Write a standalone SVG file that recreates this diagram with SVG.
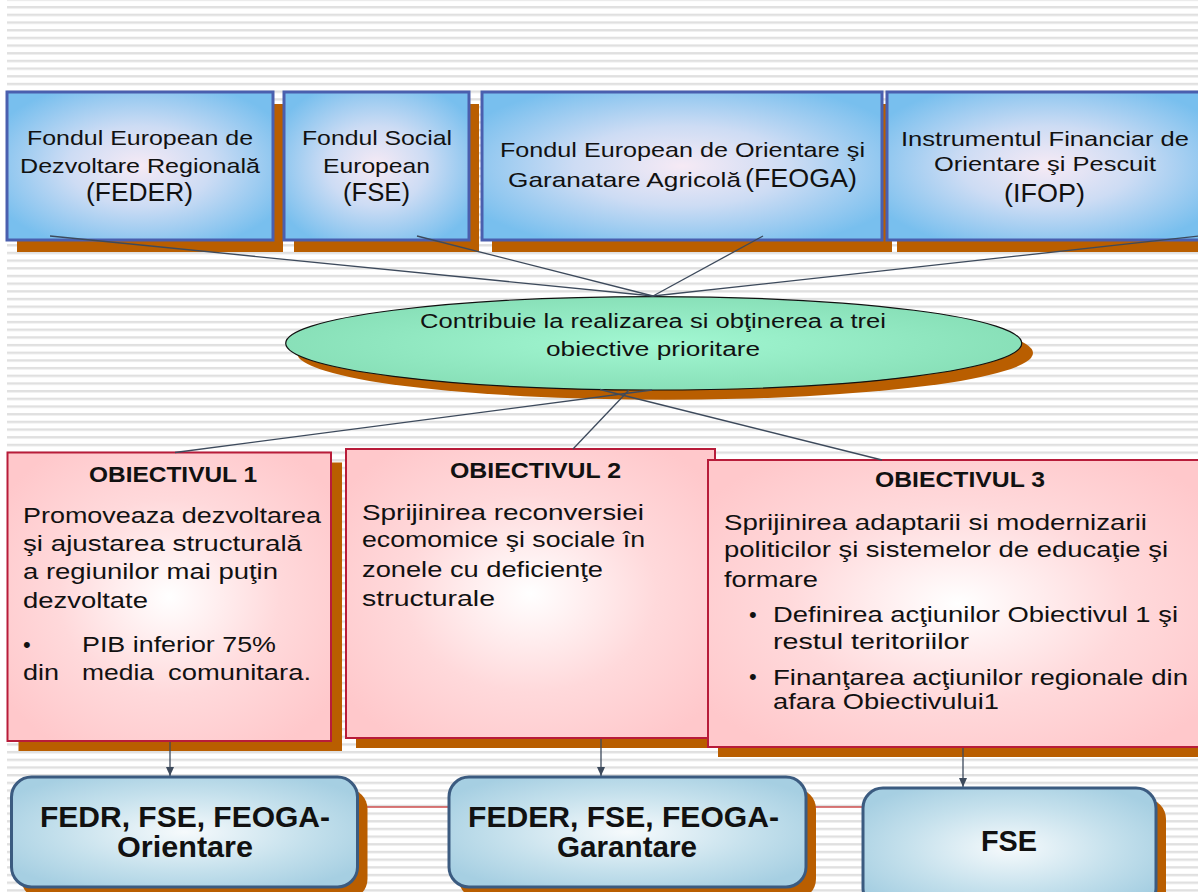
<svg xmlns="http://www.w3.org/2000/svg" width="1198" height="892" viewBox="0 0 1198 892">
<defs>
<pattern id="stripes" x="0" y="6" width="20" height="7.68" patternUnits="userSpaceOnUse"><rect width="20" height="2.4" fill="#e0e0e0"/></pattern>
<radialGradient id="gTop" cx="0.5" cy="0.5" r="0.6"><stop offset="0" stop-color="#f6eaf5"/><stop offset="0.45" stop-color="#cddcf4"/><stop offset="1" stop-color="#78bfee"/></radialGradient>
<radialGradient id="gObj" cx="0.5" cy="0.5" r="0.62"><stop offset="0" stop-color="#ffffff"/><stop offset="0.55" stop-color="#ffd9db"/><stop offset="1" stop-color="#ffc8cb"/></radialGradient>
<radialGradient id="gBot" cx="0.5" cy="0.5" r="0.6"><stop offset="0" stop-color="#f6fafc"/><stop offset="0.6" stop-color="#c4e0ec"/><stop offset="1" stop-color="#a6cfe2"/></radialGradient>
<radialGradient id="gEll" cx="0.5" cy="0.5" r="0.55"><stop offset="0" stop-color="#a2f7d2"/><stop offset="1" stop-color="#86deb6"/></radialGradient>
<marker id="arr" markerUnits="userSpaceOnUse" markerWidth="10" markerHeight="10" refX="9" refY="4" orient="auto"><path d="M0,0 L9,4 L0,8 z" fill="#3d4a5c"/></marker>
</defs>
<style>
.sh{fill:#b95e00}
.top{fill:url(#gTop);stroke:#4a5fae;stroke-width:3}
.obj{fill:url(#gObj);stroke:#b81c3a;stroke-width:2}
.bot{fill:url(#gBot);stroke:#3b5b80;stroke-width:3}
.ell{fill:url(#gEll);stroke:#111;stroke-width:1.2}
.c{stroke:#3d4a5c;stroke-width:1.3;fill:none}
.r{stroke:#c00000;stroke-width:1.2;fill:none}
text{font-family:"Liberation Sans",Arial,sans-serif;fill:#111}
.t21{font-size:21px}
.t26{font-size:26px}
.t20{font-size:20px}
.t22{font-size:22px}
.h{font-size:22px;font-weight:bold}
.b30{font-size:30px;font-weight:bold}
</style>
<rect width="1198" height="892" fill="#ffffff"/>
<rect x="7" y="0" width="1191" height="892" fill="url(#stripes)"/>

<g id="node-feder">
<rect class="sh" x="17" y="104" width="266" height="148"/>
<rect class="top" x="7" y="92" width="266" height="148"/>
<text class="t21" x="27" y="145" textLength="226" lengthAdjust="spacingAndGlyphs">Fondul European de</text>
<text class="t21" x="20" y="173" textLength="240" lengthAdjust="spacingAndGlyphs">Dezvoltare Regională</text>
<text class="t26" x="86" y="201" textLength="107" lengthAdjust="spacingAndGlyphs">(FEDER)</text>
</g>
<g id="node-fse-top">
<rect class="sh" x="294" y="104" width="185" height="148"/>
<rect class="top" x="284" y="92" width="185" height="148"/>
<text class="t21" x="302" y="145" textLength="150" lengthAdjust="spacingAndGlyphs">Fondul Social</text>
<text class="t21" x="323" y="173" textLength="107" lengthAdjust="spacingAndGlyphs">European</text>
<text class="t26" x="343" y="201" textLength="67" lengthAdjust="spacingAndGlyphs">(FSE)</text>
</g>
<g id="node-feoga">
<rect class="sh" x="492" y="104" width="400" height="148"/>
<rect class="top" x="482" y="92" width="400" height="148"/>
<text class="t21" x="500" y="157" textLength="365" lengthAdjust="spacingAndGlyphs">Fondul European de Orientare şi</text>
<text class="t21" x="508" y="187" textLength="233" lengthAdjust="spacingAndGlyphs">Garanatare Agricolă</text>
<text class="t26" x="745" y="187" textLength="112" lengthAdjust="spacingAndGlyphs">(FEOGA)</text>
</g>
<g id="node-ifop">
<rect class="sh" x="897" y="104" width="320" height="148"/>
<rect class="top" x="887" y="92" width="320" height="148"/>
<text class="t21" x="901" y="146" textLength="288" lengthAdjust="spacingAndGlyphs">Instrumentul Financiar de</text>
<text class="t21" x="934" y="171" textLength="222" lengthAdjust="spacingAndGlyphs">Orientare şi Pescuit</text>
<text class="t26" x="1004" y="202" textLength="81" lengthAdjust="spacingAndGlyphs">(IFOP)</text>
</g>

<g id="node-contribuie">
<ellipse class="sh" cx="665" cy="353" rx="368" ry="46.7"/>
<ellipse class="ell" cx="653.7" cy="343.3" rx="368" ry="46.7"/>
<text class="t20" x="420" y="328" textLength="466" lengthAdjust="spacingAndGlyphs">Contribuie la realizarea si obţinerea a trei</text>
<text class="t20" x="546" y="356" textLength="214" lengthAdjust="spacingAndGlyphs">obiective prioritare</text>
</g>

<g id="node-obiectivul1">
<rect class="sh" x="18.5" y="462.5" width="323.5" height="288.5"/>
<rect class="obj" x="7.5" y="452.5" width="323.5" height="288.5"/>
<text class="h" x="89" y="482" textLength="168" lengthAdjust="spacingAndGlyphs">OBIECTIVUL 1</text>
<text class="t22" x="23" y="523" textLength="298" lengthAdjust="spacingAndGlyphs">Promoveaza dezvoltarea</text>
<text class="t22" x="23" y="551" textLength="279" lengthAdjust="spacingAndGlyphs">şi ajustarea structurală</text>
<text class="t22" x="23" y="579" textLength="255" lengthAdjust="spacingAndGlyphs">a regiunilor mai puţin</text>
<text class="t22" x="23" y="608" textLength="125" lengthAdjust="spacingAndGlyphs">dezvoltate</text>
<text class="t22" x="23" y="652">•</text>
<text class="t22" x="82" y="652" textLength="194" lengthAdjust="spacingAndGlyphs">PIB inferior 75%</text>
<text class="t22" x="23" y="680" textLength="36" lengthAdjust="spacingAndGlyphs">din</text>
<text class="t22" x="82" y="680" textLength="72" lengthAdjust="spacingAndGlyphs">media</text>
<text class="t22" x="168" y="680" textLength="143" lengthAdjust="spacingAndGlyphs">comunitara.</text>
</g>
<g id="node-obiectivul2">
<rect class="sh" x="356" y="459" width="369" height="289"/>
<rect class="obj" x="346" y="449" width="369" height="289"/>
<text class="h" x="450" y="478" textLength="171" lengthAdjust="spacingAndGlyphs">OBIECTIVUL 2</text>
<text class="t22" x="362" y="520" textLength="282" lengthAdjust="spacingAndGlyphs">Sprijinirea reconversiei</text>
<text class="t22" x="362" y="547" textLength="283" lengthAdjust="spacingAndGlyphs">ecomomice şi sociale în</text>
<text class="t22" x="362" y="577" textLength="241" lengthAdjust="spacingAndGlyphs">zonele cu deficienţe</text>
<text class="t22" x="362" y="606" textLength="133" lengthAdjust="spacingAndGlyphs">structurale</text>
</g>
<g id="node-obiectivul3">
<rect class="sh" x="718" y="470" width="500" height="287"/>
<rect class="obj" x="708" y="460" width="500" height="287"/>
<text class="h" x="875" y="487" textLength="170" lengthAdjust="spacingAndGlyphs">OBIECTIVUL 3</text>
<text class="t22" x="724" y="530" textLength="423" lengthAdjust="spacingAndGlyphs">Sprijinirea adaptarii si modernizarii</text>
<text class="t22" x="724" y="557" textLength="444" lengthAdjust="spacingAndGlyphs">politicilor şi sistemelor de educaţie şi</text>
<text class="t22" x="724" y="587" textLength="94" lengthAdjust="spacingAndGlyphs">formare</text>
<text class="t22" x="749" y="622">•</text>
<text class="t22" x="773" y="622" textLength="405" lengthAdjust="spacingAndGlyphs">Definirea acţiunilor Obiectivul 1 şi</text>
<text class="t22" x="773" y="649" textLength="196" lengthAdjust="spacingAndGlyphs">restul teritoriilor</text>
<text class="t22" x="749" y="684">•</text>
<text class="t22" x="773" y="685" textLength="415" lengthAdjust="spacingAndGlyphs">Finanţarea acţiunilor regionale din</text>
<text class="t22" x="773" y="709" textLength="226" lengthAdjust="spacingAndGlyphs">afara Obiectivului1</text>
</g>

<g id="connectors">
<line class="c" x1="50" y1="236" x2="653" y2="296"/>
<line class="c" x1="417" y1="236" x2="653" y2="296"/>
<line class="c" x1="763" y1="236" x2="653" y2="296"/>
<line class="c" x1="1200" y1="236" x2="653" y2="296"/>
<line class="c" x1="652" y1="390" x2="175" y2="452.5"/>
<line class="c" x1="629" y1="390" x2="573" y2="449"/>
<line class="c" x1="600" y1="389.5" x2="882" y2="460"/>
<line class="r" x1="358" y1="807" x2="863" y2="807"/>
<line class="c" x1="170" y1="742" x2="170" y2="776" marker-end="url(#arr)"/>
<line class="c" x1="601" y1="739" x2="601" y2="776" marker-end="url(#arr)"/>
<line class="c" x1="963" y1="748" x2="963" y2="787" marker-end="url(#arr)"/>
</g>

<g id="node-fedr-orientare">
<rect class="sh" x="21.5" y="789" width="346" height="110" rx="20"/>
<rect class="bot" x="11.5" y="777" width="346" height="110" rx="20"/>
<text class="b30" x="40" y="827" textLength="290" lengthAdjust="spacingAndGlyphs">FEDR, FSE, FEOGA-</text>
<text class="b30" x="117" y="857" textLength="136" lengthAdjust="spacingAndGlyphs">Orientare</text>
</g>
<g id="node-feder-garantare">
<rect class="sh" x="459" y="789" width="357" height="110" rx="20"/>
<rect class="bot" x="449" y="777" width="357" height="110" rx="20"/>
<text class="b30" x="468" y="827" textLength="311" lengthAdjust="spacingAndGlyphs">FEDER, FSE, FEOGA-</text>
<text class="b30" x="557" y="857" textLength="140" lengthAdjust="spacingAndGlyphs">Garantare</text>
</g>
<g id="node-fse-bottom">
<rect class="sh" x="873" y="799" width="293" height="120" rx="20"/>
<rect class="bot" x="863" y="788" width="293" height="120" rx="20"/>
<text class="b30" x="981" y="851" textLength="56" lengthAdjust="spacingAndGlyphs">FSE</text>
</g>
</svg>
